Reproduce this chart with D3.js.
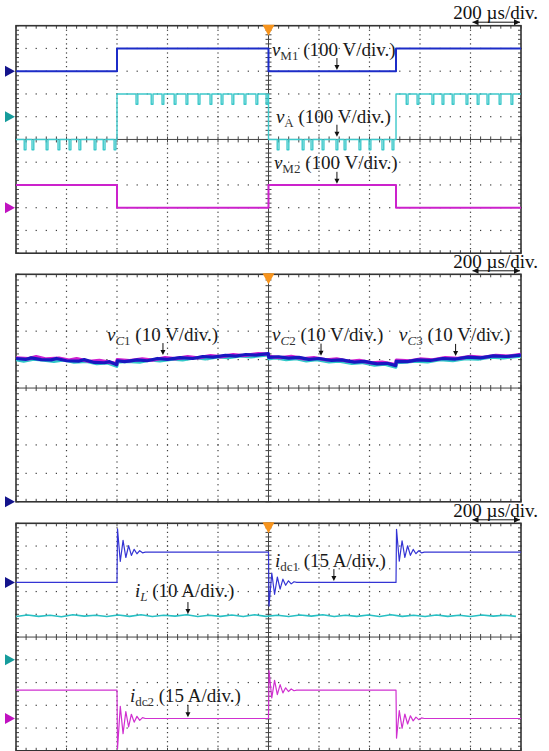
<!DOCTYPE html>
<html>
<head>
<meta charset="utf-8">
<script src="https://cdn.jsdelivr.net/npm/d3@7"></script>
<style>
  body { margin: 0; background: #fff; }
  svg { display: block; font-family: "Liberation Serif", "Times New Roman", serif; }
</style>
</head>
<body>
<div id="chart"></div>
<script>
// time base, 200 us/div
const timeDomain = [0, 2000];
const switchTimes = [400, 1000, 1505];

// panel 1, 100 V/div
const vM1Levels = [0, 100, 0, 100];
const vM2Levels = [100, 0, 100, 0];
const vALevels = [-100, 100, -100, 100];
const vADips = [36, 67, 123, 170, 214, 253, 313, 349, 392,
  479, 539, 582, 630, 677, 725, 772, 816, 859, 907, 954, 994,
  1038, 1077, 1137, 1172, 1216, 1271, 1303, 1362, 1402, 1453, 1493,
  1549, 1592, 1651, 1691, 1731, 1786, 1830, 1869, 1917, 1964];
const vADipDepth = 45;

// panel 2, 10 V/div  [us, V]
const vC1Points = [[0,50.4],[40,50.1],[60,50.6],[100,50.0],[140,49.9],[160,50.4],[200,49.6],[250,49.5],[270,50.0],[310,49.0],[350,48.9],[370,49.3],[399,48.2],
  [401,49.6],[430,49.3],[480,49.9],[520,49.6],[560,50.4],[600,50.1],[650,50.7],[700,50.4],[740,51.1],[780,50.9],[830,51.5],[870,51.2],[910,51.8],[950,51.6],[999,52.1],
  [1001,50.8],[1040,51.0],[1080,50.5],[1120,50.8],[1160,50.1],[1200,50.4],[1250,49.7],[1290,49.9],[1340,49.1],[1380,49.4],[1430,48.5],[1470,48.7],[1504,47.9],
  [1506,49.4],[1550,49.3],[1590,49.9],[1640,49.7],[1690,50.4],[1740,50.2],[1790,50.9],[1840,50.6],[1890,51.3],[1940,51.1],[2000,51.6]];
const vC2Points = [[0,50.6],[50,50.3],[80,51.0],[120,50.2],[170,50.5],[210,49.8],[240,50.3],[290,49.4],[330,49.7],[380,48.9],[399,48.6],
  [401,50.0],[450,49.6],[500,50.2],[540,49.8],[590,50.7],[630,50.3],[680,51.0],[720,50.6],[770,51.4],[810,51.0],[860,51.7],[900,51.4],[960,52.1],[999,51.9],
  [1001,51.1],[1050,50.7],[1090,51.1],[1140,50.3],[1180,50.7],[1230,49.9],[1270,50.2],[1320,49.4],[1360,49.7],[1410,48.8],[1450,49.1],[1504,48.2],
  [1506,49.8],[1560,49.5],[1600,50.2],[1650,49.9],[1700,50.7],[1750,50.4],[1800,51.1],[1850,50.8],[1900,51.5],[1950,51.2],[2000,51.8]];
const vC3Points = [[0,50.0],[30,49.5],[70,50.2],[110,49.8],[150,49.4],[190,49.9],[230,49.1],[280,49.4],[320,48.6],[360,48.9],[399,47.7],
  [401,49.1],[440,49.4],[490,49.1],[530,49.9],[570,49.6],[620,50.2],[660,49.9],[710,50.7],[750,50.3],[800,51.0],[840,50.7],[890,51.3],[930,51.0],[999,51.7],
  [1001,50.4],[1030,50.6],[1070,50.0],[1110,50.4],[1150,49.6],[1190,50.0],[1240,49.2],[1280,49.5],[1330,48.7],[1370,49.0],[1420,48.1],[1460,48.4],[1504,47.4],
  [1506,49.0],[1540,49.1],[1580,49.5],[1630,49.2],[1680,50.0],[1730,49.7],[1780,50.4],[1830,50.2],[1880,50.9],[1930,50.6],[2000,51.3]];

// panel 3, A
const idc1Levels = [0, 20, 0, 20];
const idc2Levels = [18.7, 0, 18.7, 0];
const idc1Overshoot = [0.77, 0.78, 0.75];
const idc2Overshoot = [1.07, 0.69, 0.69];
const ringShape = [1, -0.4, 0.5, -0.23, 0.28, -0.14, 0.12, -0.07, 0.06, -0.03];
const ringHalf = 11;
const iLStep = 45;
const iLValues = [19.0,19.7,19.1,19.6,18.9,19.8,19.2,19.6,19.0,19.7,19.1,19.8,19.0,19.6,19.2,19.8,19.0,19.6,19.1,19.7,
  19.0,19.8,19.1,19.6,19.0,19.7,19.2,19.8,19.0,19.6,19.1,19.7,19.0,19.8,19.1,19.6,19.0,19.7,19.1,19.6,19.0,19.7,19.2,19.6,19.1];

var App = App || {};

(function() {
  const W = 549, H = 751;
  const left = 16, right = 521;
  const panelTops = [25.7, 274.3, 523.3];
  const panelH = 227.5;
  const panelDivs = [10, 8, 10];

  let svg = d3.select("#chart").append("svg")
    .attr("width", W)
    .attr("height", H);

  let x = d3.scaleLinear().domain(timeDomain).range([left, right]);

  let ys = panelTops.map((top, i) => d3.scaleLinear()
    .domain([-panelDivs[i] / 2, panelDivs[i] / 2])
    .range([top + panelH, top]));

  let bounds = [timeDomain[0]].concat(switchTimes, [timeDomain[1]]);

  function stepWave(levels) {
    let pts = [];
    levels.forEach((v, i) => {
      pts.push([bounds[i], v], [bounds[i + 1], v]);
    });
    return pts;
  }

  function dipWave(levels, dips, depth) {
    let pts = [];
    levels.forEach((v, i) => {
      pts.push([bounds[i], v]);
      dips.filter(t => t > bounds[i] && t < bounds[i + 1]).forEach(t => {
        pts.push([t - 3.5, v], [t - 3.5, v - depth], [t + 3.5, v - depth], [t + 3.5, v]);
      });
      pts.push([bounds[i + 1], v]);
    });
    return pts;
  }

  function ringWave(levels, overshoot) {
    let pts = [[bounds[0], levels[0]]];
    switchTimes.forEach((te, i) => {
      let a = levels[i], b = levels[i + 1], step = b - a;
      pts.push([te, a]);
      ringShape.forEach((r, k) => pts.push([te + 2 + k * ringHalf, b + step * overshoot[i] * r]));
      pts.push([te + 2 + ringShape.length * ringHalf, b]);
    });
    pts.push([timeDomain[1], levels[levels.length - 1]]);
    return pts;
  }

  let traces = [
    { panel: 0, pts: stepWave(vM1Levels), offset: 3, scale: 100, color: "#1c2cc8", w: 2 },
    { panel: 0, pts: dipWave(vALevels, vADips, vADipDepth), offset: 1, scale: 100, color: "#3cc8ca", w: 1.4 },
    { panel: 0, pts: stepWave(vM2Levels), offset: -3, scale: 100, color: "#cc22cc", w: 2 },
    { panel: 1, pts: vC3Points, offset: -4, scale: 10, color: "#30c8c8", w: 3.4 },
    { panel: 1, pts: vC2Points, offset: -4, scale: 10, color: "#d020d0", w: 3.4 },
    { panel: 1, pts: vC1Points, offset: -4, scale: 10, color: "#1818c0", w: 3.2 },
    { panel: 2, pts: ringWave(idc1Levels, idc1Overshoot), offset: 2.4, scale: 15, color: "#3434d4", w: 1.2 },
    { panel: 2, pts: iLValues.map((v, i) => [i * iLStep, v]), offset: -1, scale: 10, color: "#28c0c4", w: 1.6 },
    { panel: 2, pts: ringWave(idc2Levels, idc2Overshoot), offset: -3.58, scale: 15, color: "#d030d0", w: 1.2 }
  ];

  let markers = [
    { panel: 0, div: 3, color: "#14148c" },
    { panel: 0, div: 1, color: "#169c9c" },
    { panel: 0, div: -3, color: "#c012c0" },
    { panel: 1, div: -4, color: "#14148c" },
    { panel: 2, div: 2.4, color: "#14148c" },
    { panel: 2, div: -1, color: "#169c9c" },
    { panel: 2, div: -3.58, color: "#c012c0" }
  ];

  // arrow labels: t in us, tip in div, dx = text start relative to arrow, rise = baseline above tip
  let labels = [
    { panel: 0, t: 1271, tip: 3.05, dx: -65, rise: 14, parts: [["v", "i"], ["M1", "s"], [" (100 V/div.)", ""]] },
    { panel: 0, t: 1271, tip: 0.12, dx: -61, rise: 14, parts: [["v", "i"], ["A", "s"], [" (100 V/div.)", ""]] },
    { panel: 0, t: 1271, tip: -1.95, dx: -63, rise: 14.5, parts: [["v", "i"], ["M2", "s"], [" (100 V/div.)", ""]] },
    { panel: 1, t: 582, tip: 1.16, dx: -56, rise: 14.5, parts: [["v", "i"], ["C", "si"], ["1", "s"], [" (10 V/div.)", ""]] },
    { panel: 1, t: 1208, tip: 1.14, dx: -49, rise: 14.5, parts: [["v", "i"], ["C", "si"], ["2", "s"], [" (10 V/div.)", ""]] },
    { panel: 1, t: 1741, tip: 1.13, dx: -56.5, rise: 14.5, parts: [["v", "i"], ["C", "si"], ["3", "s"], [" (10 V/div.)", ""]] },
    { panel: 2, t: 1259, tip: 2.46, dx: -59, rise: 14.5, parts: [["i", "i"], ["dc1", "s"], [" (15 A/div.)", ""]] },
    { panel: 2, t: 681, tip: 1.01, dx: -53, rise: 17, parts: [["i", "i"], ["L", "si"], [" (10 A/div.)", ""]] },
    { panel: 2, t: 681, tip: -3.52, dx: -58, rise: 15, parts: [["i", "i"], ["dc2", "s"], [" (15 A/div.)", ""]] }
  ];

  let defs = svg.append("defs");

  panelTops.forEach((top, p) => {
    let y = ys[p];
    let g = svg.append("g").attr("class", "panel");
    let nd = panelDivs[p];

    defs.append("clipPath").attr("id", "clip" + p)
      .append("rect")
      .attr("x", left).attr("y", top)
      .attr("width", right - left).attr("height", panelH);

    // dotted grid
    let majorT = d3.range(200, 2000, 200).filter(t => t !== 1000);
    let minorT = d3.range(0, 2001, 40);
    let majorY = d3.range(-nd / 2 + 1, nd / 2).filter(d => d !== 0);
    let minorY = d3.range(-nd / 2, nd / 2 + 0.001, 0.2);

    let dots = [];
    majorT.forEach(t => minorY.forEach(d => dots.push([x(t), y(d)])));
    majorY.forEach(d => minorT.forEach(t => dots.push([x(t), y(d)])));

    g.selectAll(".dot")
      .data(dots)
    .enter().append("rect")
      .attr("class", "dot")
      .attr("x", d => d[0] - 0.6)
      .attr("y", d => d[1] - 0.6)
      .attr("width", 1.2)
      .attr("height", 1.2)
      .attr("fill", "#3a3a3a");

    // centre axes
    g.append("line")
      .attr("x1", left).attr("x2", right)
      .attr("y1", y(0)).attr("y2", y(0))
      .attr("stroke", "#444").attr("stroke-width", 1);
    g.append("line")
      .attr("x1", x(1000)).attr("x2", x(1000))
      .attr("y1", top).attr("y2", top + panelH)
      .attr("stroke", "#444").attr("stroke-width", 1);

    let ticks = [];
    minorT.forEach(t => {
      ticks.push([x(t), y(0) - 3, x(t), y(0) + 3]);
      ticks.push([x(t), top, x(t), top + 3]);
      ticks.push([x(t), top + panelH - 3, x(t), top + panelH]);
    });
    minorY.forEach(d => {
      ticks.push([x(1000) - 3, y(d), x(1000) + 3, y(d)]);
      ticks.push([left, y(d), left + 3, y(d)]);
      ticks.push([right - 3, y(d), right, y(d)]);
    });

    g.selectAll(".tick")
      .data(ticks)
    .enter().append("line")
      .attr("class", "tick")
      .attr("x1", d => d[0]).attr("y1", d => d[1])
      .attr("x2", d => d[2]).attr("y2", d => d[3])
      .attr("stroke", "#444")
      .attr("stroke-width", 1);

    g.append("rect")
      .attr("x", left).attr("y", top)
      .attr("width", right - left).attr("height", panelH)
      .attr("fill", "none")
      .attr("stroke", "#333")
      .attr("stroke-width", 1.6);

    // trigger marker
    g.append("path")
      .attr("d", "M" + (x(1000) - 6) + "," + (top - 1) + "L" + (x(1000) + 6) + "," + (top - 1) + "L" + x(1000) + "," + (top + 10) + "Z")
      .attr("fill", "#f7941d");

    // time scale note
    svg.append("text")
      .attr("x", 538)
      .attr("y", top - 6.5)
      .attr("text-anchor", "end")
      .attr("font-size", 19)
      .attr("fill", "#111")
      .text("200 \u00b5s/div.");

    let ay = top - 3.5, ax0 = x(1800) + 2, ax1 = right - 1;
    svg.append("line")
      .attr("x1", ax0).attr("x2", ax1)
      .attr("y1", ay).attr("y2", ay)
      .attr("stroke", "#111").attr("stroke-width", 1);
    svg.append("path")
      .attr("d", "M" + ax0 + "," + ay + "l6,-3l0,6Z M" + ax1 + "," + ay + "l-6,-3l0,6Z")
      .attr("fill", "#111");
  });

  // traces
  let line = d3.line();

  traces.forEach(tr => {
    let y = ys[tr.panel];
    svg.append("path")
      .datum(tr.pts)
      .attr("clip-path", "url(#clip" + tr.panel + ")")
      .attr("fill", "none")
      .attr("stroke", tr.color)
      .attr("stroke-width", tr.w)
      .attr("stroke-linejoin", "round")
      .attr("d", line.x(d => x(d[0])).y(d => y(tr.offset + d[1] / tr.scale)));
  });

  // channel markers
  svg.selectAll(".chMarker")
    .data(markers)
  .enter().append("path")
    .attr("class", "chMarker")
    .attr("d", d => {
      let cy = ys[d.panel](d.div);
      return "M5," + (cy - 5.5) + "L15," + cy + "L5," + (cy + 5.5) + "Z";
    })
    .attr("fill", d => d.color);

  // labels with arrows
  labels.forEach(lb => {
    let ax = x(lb.t), tip = ys[lb.panel](lb.tip);

    svg.append("line")
      .attr("x1", ax).attr("x2", ax)
      .attr("y1", tip - 12).attr("y2", tip - 4)
      .attr("stroke", "#111").attr("stroke-width", 1);
    svg.append("path")
      .attr("d", "M" + (ax - 2.5) + "," + (tip - 5) + "L" + (ax + 2.5) + "," + (tip - 5) + "L" + ax + "," + tip + "Z")
      .attr("fill", "#111");

    let txt = svg.append("text")
      .attr("x", ax + lb.dx)
      .attr("y", tip - lb.rise)
      .attr("font-size", 19)
      .attr("fill", "#1a1a1a");

    let down = false;
    lb.parts.forEach(pt => {
      let isSub = pt[1].indexOf("s") >= 0;
      let ts = txt.append("tspan").text(pt[0]);
      if (pt[1].indexOf("i") >= 0) ts.attr("font-style", "italic");
      if (isSub) {
        ts.attr("font-size", 13).attr("fill", "#333");
        if (!down) { ts.attr("dy", 4); down = true; }
      } else if (down) {
        ts.attr("dy", -4);
        down = false;
      }
    });
  });
})();
</script>
</body>
</html>
